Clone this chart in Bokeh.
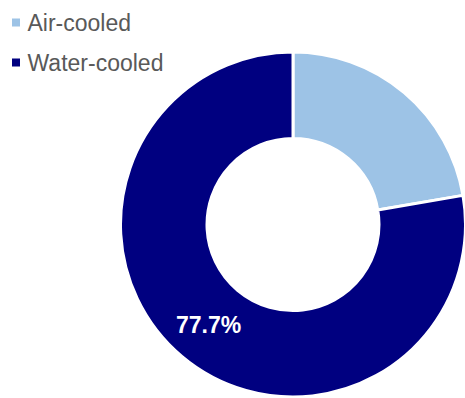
import math
from bokeh.plotting import figure
from bokeh.models import Range1d, ColumnDataSource
from bokeh.core.properties import value
from bokeh.embed import file_html
from bokeh.resources import INLINE

# Share of cooling type
categories = ["Air-cooled", "Water-cooled"]
shares = [22.3, 77.7]
colors = ["#9DC3E6", "#000080"]
labelled = [False, True]

W, H = 465, 398
cx, cy = 292.5, H - 224
r_out, r_in = 172.5, 86

p = figure(width=W, height=H, output_backend="svg", toolbar_location=None,
           x_range=Range1d(0, W), y_range=Range1d(0, H), min_border=0)
p.axis.visible = False
p.grid.visible = False
p.outline_line_color = None
p.background_fill_color = "white"

# wedges run clockwise from 12 o'clock
total = sum(shares)
starts, ends, mids = [], [], []
acc = 0.0
for s in shares:
    a0 = math.pi / 2 - 2 * math.pi * acc / total
    a1 = math.pi / 2 - 2 * math.pi * (acc + s) / total
    starts.append(a0)
    ends.append(a1)
    mids.append((a0 + a1) / 2)
    acc += s

src = ColumnDataSource(dict(x=[cx] * len(shares), y=[cy] * len(shares),
                            start=starts, end=ends, color=colors))
p.annular_wedge(x="x", y="y", inner_radius=r_in, outer_radius=r_out,
                start_angle="start", end_angle="end", direction="clock",
                fill_color="color", line_color="white", line_width=3, source=src)

# percentage labels
r_lab = 131
lx = [cx + r_lab * math.cos(m) for m, show in zip(mids, labelled) if show]
ly = [cy + r_lab * math.sin(m) for m, show in zip(mids, labelled) if show]
lt = [f"{s:.1f}%" for s, show in zip(shares, labelled) if show]
p.text(x=lx, y=ly, text=lt, text_color="white", text_font=value("Liberation Sans"),
       text_font_style="bold", text_font_size="23px", text_align="center",
       text_baseline="middle")

# legend
leg_y = [H - 22, H - 62]
p.scatter(x=[15.5, 15.5], y=leg_y, marker="square", size=8, color=colors,
          line_color=None)
p.text(x=[27, 27], y=leg_y, text=categories, text_color="#595959",
       text_font=value("Liberation Sans"), text_font_size="23px",
       text_align="left", text_baseline="middle")

open("out.html", "w").write(file_html(p, INLINE))
